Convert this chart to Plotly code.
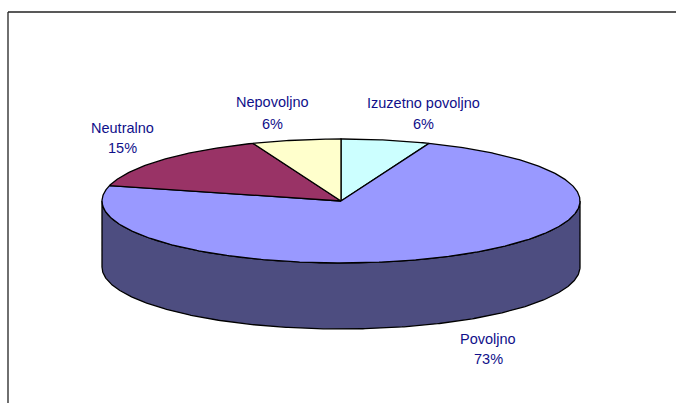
import numpy as np
import plotly.graph_objects as go

categories = ["Izuzetno povoljno", "Povoljno", "Neutralno", "Nepovoljno"]
percents = [6, 73, 15, 6]
top_colors = ["#CCFFFF", "#9999FF", "#993366", "#FFFFCC"]
side_color = "#4D4D80"
text_color = "#10108A"

# label centres in page pixels: x, y of name line, y of percent line
label_pos = [(423.5, 103, 124), (488, 339, 359), (122, 128, 148), (272.5, 102, 124)]

# pie geometry in page pixels
cx, cy = 341, 201
rx, ry = 239, 62
depth = 66


def rim(a0, a1, dy=0):
    # angles in degrees, clockwise from the top
    t = np.radians(np.linspace(a0, a1, max(int(abs(a1 - a0)) * 2, 2)))
    return cx + rx * np.sin(t), cy + dy - ry * np.cos(t)


fig = go.Figure()

# side wall, only the front half of the rim is visible
x1, y1 = rim(90, 270)
x2, y2 = rim(270, 90, depth)
fig.add_trace(go.Scatter(
    x=np.r_[x1, x2, x1[0]], y=np.r_[y1, y2, y1[0]],
    mode="lines", fill="toself", fillcolor=side_color,
    line=dict(color="black", width=1.3), hoverinfo="skip",
))

# top face slices
edges = np.cumsum([0] + percents) / sum(percents) * 360
for i, name in enumerate(categories):
    xs, ys = rim(edges[i], edges[i + 1])
    fig.add_trace(go.Scatter(
        x=np.r_[cx, xs, cx], y=np.r_[cy, ys, cy],
        mode="lines", fill="toself", fillcolor=top_colors[i],
        line=dict(color="black", width=1.3), name=name,
    ))

for name, pct, (lx, ly1, ly2) in zip(categories, percents, label_pos):
    for txt, ly in ((name, ly1), (f"{pct}%", ly2)):
        fig.add_annotation(x=lx, y=ly, text=txt, showarrow=False,
                           font=dict(family="Liberation Sans", size=14.5, color=text_color))

# chart frame runs off the right and bottom of the crop
fig.add_shape(type="line", x0=8, x1=8, y0=403, y1=12, line=dict(color="#222222", width=1.3))
fig.add_shape(type="line", x0=8, x1=676, y0=12, y1=12, line=dict(color="#222222", width=1.3))

fig.update_layout(
    width=676, height=403, margin=dict(l=0, r=0, t=0, b=0),
    paper_bgcolor="white", plot_bgcolor="white", showlegend=False,
    xaxis=dict(range=[0, 676], visible=False),
    yaxis=dict(range=[403, 0], visible=False),
)
fig.write_html("out.html", config=dict(displayModeBar=False),
               post_script="document.body.style.margin='0';document.body.style.overflow='hidden';")
